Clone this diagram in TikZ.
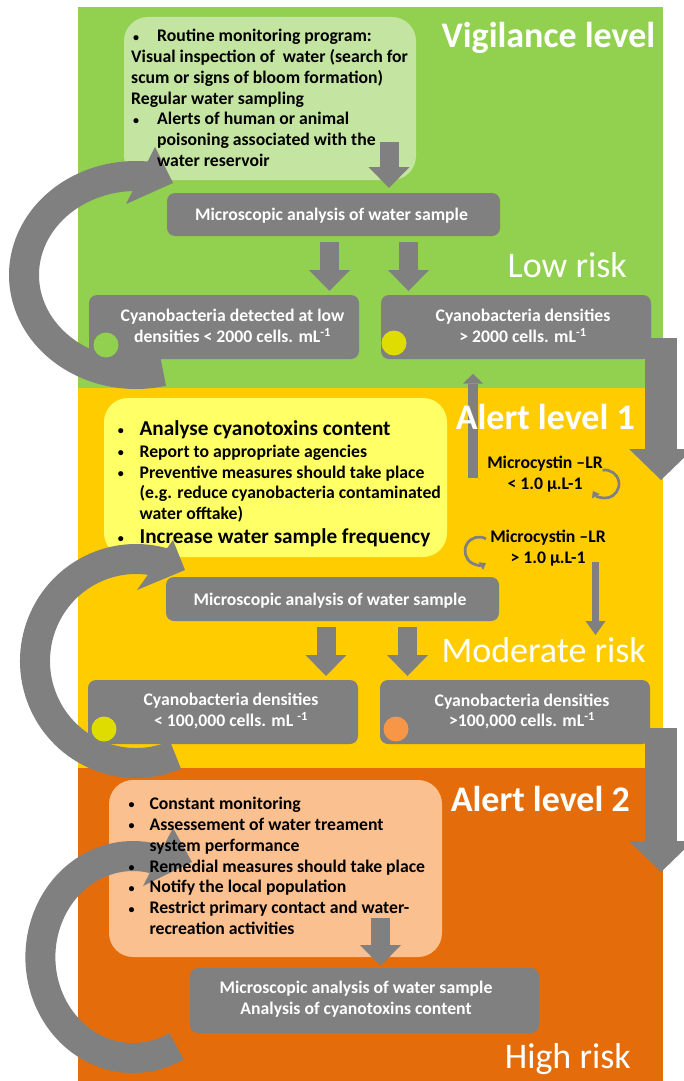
\documentclass[tikz,border=0pt]{standalone}
\usepackage{fontspec}
\setmainfont{Carlito}
\usetikzlibrary{arrows.meta}

\definecolor{vigilgreen}{HTML}{92D050}
\definecolor{palegreen}{HTML}{C4E4A2}
\definecolor{alertyellow}{HTML}{FFCC00}
\definecolor{paleyellow}{HTML}{FFFF66}
\definecolor{alertorange}{HTML}{E46C0A}
\definecolor{peach}{HTML}{FBC08F}
\definecolor{boxgray}{HTML}{808080}
\definecolor{dotyellow}{HTML}{DEDC00}
\definecolor{dotorange}{HTML}{F79646}

\newcommand\bodyfont{\fontsize{17.7}{20.8}\selectfont}
\newcommand\bigfont{\fontsize{21.2}{20.8}\selectfont}
\newcommand\bul[1]{\makebox[#1][l]{\raisebox{0.6pt}{\fontsize{12}{12}\selectfont\textbullet}}}

\begin{document}
\begin{tikzpicture}[x=1pt,y=-1pt,
  softbox/.style={rounded corners=24pt, inner sep=0pt},
  graybox/.style={fill=boxgray, rounded corners=8pt, inner sep=0pt},
  graytext/.style={text=white, font=\bfseries, inner sep=0pt, anchor=base},
  blacktext/.style={font=\bfseries, inner sep=0pt, anchor=base west},
  leveltitle/.style={text=white, font=\fontsize{36}{40}\selectfont, inner sep=0pt, anchor=base east},
  levelbold/.style={leveltitle, font=\fontsize{36}{40}\selectfont\bfseries},
  riskdot/.style={circle, minimum size=25pt, inner sep=0pt},
  blockdown/.style={draw=boxgray, line width=19pt, -{Triangle[length=21pt,width=41pt,line width=0pt]}},
  bigdown/.style={draw=boxgray, line width=32pt, -{Triangle[length=31pt,width=64pt,line width=0pt]}},
  bigarc/.style={draw=boxgray, line width=30pt},
  looparrow/.style={draw=boxgray, line width=2.7pt, -{Triangle[length=6pt,width=9pt,line width=0pt]}}
  ]
  \useasboundingbox (0,0) rectangle (683,1081);

  %% level panels
  \fill[vigilgreen] (78,7.5) rectangle (663,388);
  \fill[alertyellow] (78,388) rectangle (663,768);
  \fill[alertorange] (78,768) rectangle (663,1081);

  %% boxes
  \node[softbox, fill=palegreen, minimum width=292pt, minimum height=163pt] (routine) at (270,98.5) {};
  \node[graybox, minimum width=333pt, minimum height=43pt] (micro1) at (333.5,214.5) {};
  \node[graybox, minimum width=270pt, minimum height=64pt] (lowbox) at (224,327) {};
  \node[graybox, minimum width=270pt, minimum height=64pt] (abovebox) at (516,327) {};

  \node[softbox, fill=paleyellow, minimum width=343pt, minimum height=159pt] (agenda1) at (275.5,477.5) {};
  \node[graybox, minimum width=333pt, minimum height=44pt] (micro2) at (332.5,599) {};
  \node[graybox, minimum width=270pt, minimum height=64pt] (modbox) at (223,712) {};
  \node[graybox, minimum width=270pt, minimum height=64pt] (highbox) at (515,712) {};

  \node[softbox, fill=peach, minimum width=333pt, minimum height=177pt] (agenda2) at (275.5,868.5) {};
  \node[graybox, minimum width=349pt, minimum height=65pt] (micro3) at (364.5,1000.5) {};

  %% block arrows
  \coordinate (a0s) at (389,142);   \coordinate (a0e) at (389,188);
  \coordinate (a1s) at (329.5,242); \coordinate (a1e) at (329.5,291);
  \coordinate (a2s) at (408.5,242); \coordinate (a2e) at (408.5,291);
  \coordinate (a3s) at (326,627);   \coordinate (a3e) at (326,676);
  \coordinate (a4s) at (407.5,627); \coordinate (a4e) at (407.5,676);
  \coordinate (a5s) at (380.5,918); \coordinate (a5e) at (380.5,966);
  \draw[blockdown] (a0s) -- (a0e); % routine -> micro1
  \draw[blockdown] (a1s) -- (a1e); % micro1 -> lowbox
  \draw[blockdown] (a2s) -- (a2e); % micro1 -> abovebox
  \draw[blockdown] (a3s) -- (a3e); % micro2 -> modbox
  \draw[blockdown] (a4s) -- (a4e); % micro2 -> highbox
  \draw[blockdown] (a5s) -- (a5e); % agenda2 -> micro3

  %% escalation arrows on the right
  \coordinate (up1) at (661,338);  \coordinate (down1) at (661,480);
  \coordinate (up2) at (661,728);  \coordinate (down2) at (661,872);
  \draw[bigdown] (up1) -- (down1); % abovebox -> alert 1
  \draw[bigdown] (up2) -- (down2); % highbox -> alert 2

  %% microcystin arrows
  \coordinate (back1) at (473,478);  \coordinate (back2) at (473,374);
  \draw[draw=boxgray, line width=9.5pt, -{Triangle[length=9.5pt,width=20pt,line width=0pt]}] (back1) -- (back2);
  \coordinate (fwd1) at (595.5,562); \coordinate (fwd2) at (595.5,635);
  \draw[draw=boxgray, line width=7.5pt, -{Triangle[length=14pt,width=20pt,line width=0pt]}] (fwd1) -- (fwd2);
  \coordinate (lc1) at (605,484);
  \coordinate (lc2) at (479,551);
  \draw[looparrow] ([shift={(lc1)}]-100:14) arc[start angle=-100, end angle=150, radius=14];
  \draw[looparrow] ([shift={(lc2)}]-60:14) arc[start angle=-60, end angle=-300, radius=14];

  %% circular arrows on the left
  \coordinate (c1) at (136,275);
  \coordinate (c2) at (136,661);
  \coordinate (c3) at (133,957);
  \draw[bigarc] ([shift={(c1)}]76:112 and 99) arc[start angle=76, end angle=277, x radius=112, y radius=99];
  \fill[boxgray] (155,147) -- (173,183) -- (126,204) -- cycle;
  \draw[bigarc] ([shift={(c2)}]67:101 and 102) arc[start angle=67, end angle=286, x radius=101, y radius=102];
  \fill[boxgray] (173,540) -- (185,570) -- (137,590) -- cycle;
  \draw[bigarc] ([shift={(c3)}]62:92.6 and 101) arc[start angle=62, end angle=288, x radius=92.6, y radius=101];
  \fill[boxgray] (173,828) -- (192,862) -- (143,886) -- cycle;

  %% risk dots
  \node[riskdot, fill=vigilgreen] (dotlow) at (106,345) {};
  \node[riskdot, fill=dotyellow] (dotabove) at (394,343) {};
  \node[riskdot, fill=dotyellow] (dotmod) at (104,729) {};
  \node[riskdot, fill=dotorange] (dothigh) at (396,729) {};

  %% texts
  \node[blacktext] (routinetext) at (131,41.7) {\parbox[t]{400pt}{\raggedright\bodyfont
    \hspace*{2pt}\bul{24pt}Routine monitoring program:\\
    Visual inspection of\ \ water (search for\\
    scum or signs of bloom formation)\\
    Regular water sampling\\
    \hspace*{2pt}\bul{24pt}Alerts of human or animal\\
    \hspace*{26pt}poisoning associated with the\\
    \hspace*{26pt}water reservoir}};
  \node[graytext] (micro1text) at (331.5,220.7) {\bodyfont Microscopic analysis of water sample};
  \node[graytext] (lowtext) at (232.5,321.7) {\parbox[t]{300pt}{\centering\bodyfont
    Cyanobacteria detected at low\\densities < 2000 cells. mL\textsuperscript{-1}}};
  \node[graytext] (abovetext) at (523,321.7) {\parbox[t]{300pt}{\centering\bodyfont
    Cyanobacteria densities\\> 2000 cells. mL\textsuperscript{-1}}};

  \node[blacktext] (agenda1text) at (117.6,435) {\parbox[t]{400pt}{\raggedright\bodyfont
    \bul{21.8pt}{\bigfont Analyse cyanotoxins content}\\[1.5pt]
    \bul{21.8pt}Report to appropriate agencies\\
    \bul{21.8pt}Preventive measures should take place\\
    \hspace*{21.8pt}(e.g. reduce cyanobacteria contaminated\\
    \hspace*{21.8pt}water offtake)\\[3pt]
    \bul{21.8pt}{\bigfont Increase water sample frequency}}};
  \node[graytext, text=black] (mcless) at (545,468.3) {\parbox[t]{200pt}{\centering\bodyfont
    Microcystin –LR\\< 1.0 µ.L-1}};
  \node[graytext, text=black] (mcmore) at (548,542.7) {\parbox[t]{200pt}{\centering\bodyfont
    Microcystin –LR\\> 1.0 µ.L-1}};
  \node[graytext] (micro2text) at (330,605) {\bodyfont Microscopic analysis of water sample};
  \node[graytext] (modtext) at (231,705.7) {\parbox[t]{300pt}{\centering\bodyfont
    Cyanobacteria densities\\< 100,000 cells. mL \textsuperscript{-1}}};
  \node[graytext] (hightext) at (522,706) {\parbox[t]{300pt}{\centering\bodyfont
    Cyanobacteria densities\\>100,000 cells. mL\textsuperscript{-1}}};

  \node[blacktext] (agenda2text) at (128.5,809.3) {\parbox[t]{400pt}{\raggedright\fontsize{17.7}{20.9}\selectfont
    \bul{20.9pt}Constant monitoring\\
    \bul{20.9pt}Assessement of water treament\\
    \hspace*{20.9pt}system performance\\
    \bul{20.9pt}Remedial measures should take place\\
    \bul{20.9pt}Notify the local population\\
    \bul{20.9pt}Restrict primary contact and water-\\
    \hspace*{20.9pt}recreation activities}};
  \node[graytext] (micro3text) at (356,993.3) {\parbox[t]{350pt}{\centering\bodyfont
    Microscopic analysis of water sample\\Analysis of cyanotoxins content}};

  %% level titles
  \node[levelbold] (vigil) at (655.5,48) {Vigilance level};
  \node[leveltitle] (lowrisk) at (627,277) {Low risk};
  \node[levelbold] (alert1) at (635,429) {Alert level 1};
  \node[leveltitle] (modrisk) at (646,662) {Moderate risk};
  \node[levelbold] (alert2) at (630,811) {Alert level 2};
  \node[leveltitle] (highrisk) at (631,1068) {High risk};

\end{tikzpicture}
\end{document}
